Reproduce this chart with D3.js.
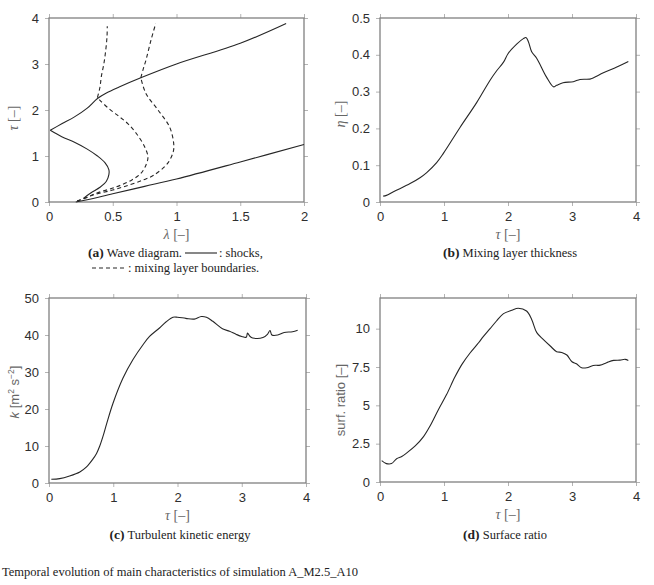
<!DOCTYPE html>
<meta charset="utf-8">
<style>
    body { margin: 0; background: #fff; }
    .frame { fill: none; stroke: #808080; stroke-width: 1.3px; }
    .tick line { stroke: #b4b4b4; stroke-width: 1px; }
    .tick text { font-family: "Liberation Sans", Arial, sans-serif; font-size: 13px; fill: #2e2e2e; }
    .curve { fill: none; stroke: #262626; stroke-width: 1.1px; }
    .dashed { stroke-dasharray: 4 3; }
    .axlabel { font-family: "Liberation Serif", serif; font-size: 14px; fill: #666; }
    .axlabel-sans { font-family: "Liberation Sans", Arial, sans-serif; font-size: 13px; fill: #666; }
    .caption { font-family: "Liberation Serif", serif; font-size: 12.5px; fill: #222; }
</style>
<body>
<svg id="chart" width="654" height="585"></svg>
<script src="https://d3js.org/d3.v7.min.js"></script>
<script>
// (a) wave diagram, points are [lambda, tau]
var incidentShock = [[0.21,0],[0.3,0.05],[0.5,0.18],[0.75,0.34],[1,0.5],[1.5,0.87],[2,1.25]];
var reflectedShock = [[0.27,0.08],[0.33,0.2],[0.4,0.32],[0.45,0.45],[0.47,0.6],[0.47,0.7],[0.44,0.85],
    [0.38,1.0],[0.3,1.15],[0.2,1.3],[0.1,1.42],[0.01,1.56]];
var transmittedShock = [[0.01,1.56],[0.1,1.7],[0.2,1.85],[0.3,2.04],[0.38,2.25],[0.45,2.37],[0.55,2.5],
    [0.72,2.7],[1,3.0],[1.5,3.45],[1.86,3.88]];
var mixLeftLow = [[0.22,0.02],[0.3,0.1],[0.37,0.19],[0.53,0.33],[0.65,0.48],[0.72,0.62],[0.76,0.8],
    [0.776,0.98],[0.75,1.2],[0.685,1.49],[0.62,1.7],[0.554,1.85],[0.47,2.03],[0.4,2.21],[0.38,2.27]];
var mixLeftHigh = [[0.38,2.27],[0.4,2.5],[0.41,2.72],[0.43,3.0],[0.445,3.3],[0.455,3.6],[0.457,3.82]];
var mixRightLow = [[0.22,0.02],[0.345,0.15],[0.5,0.26],[0.63,0.37],[0.74,0.48],[0.82,0.58],[0.93,0.84],
    [0.975,1.1],[0.978,1.27],[0.946,1.63],[0.855,2.0],[0.76,2.36],[0.72,2.7]];
var mixRightHigh = [[0.72,2.7],[0.74,2.9],[0.76,3.08],[0.8,3.52],[0.837,3.88]];

// (b) mixing layer thickness
var tauB = [0.05,0.1,0.21,0.47,0.625,0.73,0.885,0.99,1.25,1.51,1.72,1.82,1.93,2.0,2.135,2.24,2.28,
    2.32,2.37,2.45,2.6,2.71,2.76,2.86,3.02,3.125,3.28,3.33,3.49,3.7,3.88];
var etaB = [0.016,0.018,0.028,0.05,0.066,0.08,0.107,0.132,0.2025,0.27,0.331,0.356,0.38,0.403,0.429,0.444,0.447,
    0.435,0.408,0.39,0.34,0.313,0.317,0.324,0.327,0.333,0.334,0.337,0.351,0.367,0.382];

// (c) turbulent kinetic energy
var tauC = [0.036,0.166,0.32,0.48,0.58,0.68,0.74,0.79,0.84,0.9,0.995,1.15,1.305,1.46,1.565,1.72,1.82,1.93,2.0,2.13,
    2.26,2.37,2.45,2.55,2.7,2.81,2.91,3.0,3.07,3.09,3.13,3.17,3.33,3.4,3.44,3.47,3.56,3.66,3.79,3.87];
var kC = [1.0,1.18,1.9,3.0,4.3,6.4,8.0,10.0,12.6,16.2,21.5,28.3,33.3,37.3,39.6,41.9,43.5,44.8,44.8,44.5,
    44.3,45.0,44.8,43.7,41.7,41.0,40.2,39.6,39.4,40.5,39.6,39.2,39.3,40.2,41.2,40.0,40.0,40.7,40.9,41.3];

// (d) surface ratio
var tauD = [0.026,0.1,0.18,0.26,0.34,0.42,0.55,0.68,0.78,0.91,1.04,1.17,1.28,1.41,1.54,1.61,1.72,1.82,1.93,
    2.06,2.16,2.29,2.37,2.45,2.55,2.66,2.76,2.84,2.92,3.0,3.07,3.15,3.23,3.33,3.44,3.54,3.65,3.75,3.83,3.88];
var surfD = [1.39,1.2,1.2,1.52,1.66,1.9,2.35,2.96,3.64,4.7,5.7,6.84,7.67,8.43,9.08,9.46,10.0,10.5,10.98,
    11.2,11.33,11.15,10.6,9.74,9.3,8.87,8.5,8.45,8.28,7.84,7.71,7.45,7.45,7.6,7.62,7.78,7.93,7.95,8.0,7.93];

var lambdaTicks = [0, 0.5, 1, 1.5, 2];
var tauTicksA = [0, 1, 2, 3, 4];
var tauTicks = [0, 1, 2, 3, 4];
var etaTicks = [0, 0.1, 0.2, 0.3, 0.4, 0.5];
var kTicks = [0, 10, 20, 30, 40, 50];
var surfTicks = [0, 2.5, 5, 7.5, 10];

var svg = d3.select("#chart");
var fmt = function(d) { return String(d); };
var blank = function() { return ""; };

function panel(cfg) {
    var x = d3.scaleLinear().domain(cfg.xDomain).range([cfg.left, cfg.right]);
    var y = d3.scaleLinear().domain(cfg.yDomain).range([cfg.bottom, cfg.top]);
    var g = svg.append("g");

    g.append("g").attr("transform", "translate(0," + cfg.bottom + ")")
        .call(d3.axisBottom(x).tickValues(cfg.xTicks).tickFormat(fmt).tickSize(4).tickSizeOuter(0).tickPadding(6));
    g.append("g").attr("transform", "translate(0," + cfg.top + ")")
        .call(d3.axisTop(x).tickValues(cfg.xTicks).tickFormat(blank).tickSize(4).tickSizeOuter(0));
    g.append("g").attr("transform", "translate(" + cfg.left + ",0)")
        .call(d3.axisLeft(y).tickValues(cfg.yTicks).tickFormat(fmt).tickSize(4).tickSizeOuter(0).tickPadding(6));
    g.append("g").attr("transform", "translate(" + cfg.right + ",0)")
        .call(d3.axisRight(y).tickValues(cfg.yTicks).tickFormat(blank).tickSize(4).tickSizeOuter(0));
    g.selectAll(".domain").remove();
    g.selectAll(".tick text").attr("fill", null);

    g.append("rect").attr("class", "frame")
        .attr("x", cfg.left).attr("y", cfg.top)
        .attr("width", cfg.right - cfg.left).attr("height", cfg.bottom - cfg.top);

    // x axis label
    var xl = g.append("text").attr("class", "axlabel")
        .attr("x", (cfg.left + cfg.right) / 2).attr("y", cfg.bottom + 37)
        .attr("text-anchor", "middle");
    xl.append("tspan").attr("font-style", "italic").text(cfg.xName);
    xl.append("tspan").text(" [\u2013]");

    var line = d3.line().x(function(d) { return x(d[0]); }).y(function(d) { return y(d[1]); });
    return { x: x, y: y, g: g, line: line };
}

// ---- (a)
var pa = panel({ left: 49, right: 304, top: 18, bottom: 202, xDomain: [0, 2], yDomain: [0, 4],
    xTicks: lambdaTicks, yTicks: tauTicksA, xName: "\u03bb" });
var smooth = pa.line.curve(d3.curveCatmullRom.alpha(0.5));
[incidentShock, reflectedShock, transmittedShock].forEach(function(s) {
    pa.g.append("path").attr("class", "curve").attr("d", smooth(s));
});
[mixLeftLow, mixLeftHigh, mixRightLow, mixRightHigh].forEach(function(s) {
    pa.g.append("path").attr("class", "curve dashed").attr("d", smooth(s));
});
var ya = pa.g.append("text").attr("class", "axlabel").attr("text-anchor", "middle")
    .attr("transform", "translate(18,118) rotate(-90)");
ya.append("tspan").attr("font-style", "italic").text("\u03c4");
ya.append("tspan").text(" [\u2013]");

// ---- (b)
var pb = panel({ left: 380, right: 636, top: 18, bottom: 202, xDomain: [0, 4], yDomain: [0, 0.5],
    xTicks: tauTicks, yTicks: etaTicks, xName: "\u03c4" });
pb.g.append("path").attr("class", "curve")
    .attr("d", pb.line.curve(d3.curveCatmullRom.alpha(0.5))(d3.zip(tauB, etaB)));
var yb = pb.g.append("text").attr("class", "axlabel").attr("text-anchor", "middle")
    .attr("transform", "translate(345,114) rotate(-90)");
yb.append("tspan").attr("font-style", "italic").text("\u03b7");
yb.append("tspan").text(" [\u2013]");

// ---- (c)
var pc = panel({ left: 49, right: 306, top: 298, bottom: 483, xDomain: [0, 4], yDomain: [0, 50],
    xTicks: tauTicks, yTicks: kTicks, xName: "\u03c4" });
pc.g.append("path").attr("class", "curve")
    .attr("d", pc.line.curve(d3.curveCatmullRom.alpha(0.5))(d3.zip(tauC, kC)));
var yc = pc.g.append("text").attr("class", "axlabel-sans").attr("text-anchor", "middle")
    .attr("transform", "translate(19,392) rotate(-90)");
yc.append("tspan").attr("font-style", "italic").text("k");
yc.append("tspan").text(" [m");
yc.append("tspan").attr("font-size", "8.5px").attr("baseline-shift", "super").text("2");
yc.append("tspan").text(" s");
yc.append("tspan").attr("font-size", "8.5px").attr("baseline-shift", "super").text("\u22122");
yc.append("tspan").text("]");

// ---- (d)
var pd = panel({ left: 380, right: 636, top: 298, bottom: 482, xDomain: [0, 4], yDomain: [0, 12],
    xTicks: tauTicks, yTicks: surfTicks, xName: "\u03c4" });
pd.g.append("path").attr("class", "curve")
    .attr("d", pd.line.curve(d3.curveCatmullRom.alpha(0.5))(d3.zip(tauD, surfD)));
pd.g.append("text").attr("class", "axlabel-sans").attr("text-anchor", "middle")
    .attr("transform", "translate(345,400) rotate(-90)")
    .text("surf. ratio [\u2013]");

// ---- captions
function caption(cx, cy, letter, rest) {
    var t = svg.append("text").attr("class", "caption").attr("x", cx).attr("y", cy).attr("text-anchor", "middle");
    t.append("tspan").attr("font-weight", "bold").attr("font-size", "13.5px").text("(" + letter + ")");
    t.append("tspan").text(" " + rest);
}
caption(510, 257, "b", "Mixing layer thickness");
caption(180, 539, "c", "Turbulent kinetic energy");
caption(505, 539, "d", "Surface ratio");

// (a) caption with legend samples
var r1 = svg.append("text").attr("class", "caption").attr("x", 88).attr("y", 257);
r1.append("tspan").attr("font-weight", "bold").attr("font-size", "13.5px").text("(a)");
r1.append("tspan").text(" Wave diagram.");
var w1 = r1.node().getComputedTextLength();
svg.append("line").attr("class", "curve").attr("x1", 88 + w1 + 3).attr("x2", 88 + w1 + 35)
    .attr("y1", 253).attr("y2", 253);
svg.append("text").attr("class", "caption").attr("x", 88 + w1 + 37).attr("y", 257).text(": shocks,");

svg.append("line").attr("class", "curve dashed").attr("x1", 92).attr("x2", 125)
    .attr("y1", 268).attr("y2", 268);
svg.append("text").attr("class", "caption").attr("x", 128).attr("y", 272).text(": mixing layer boundaries.");

svg.append("text").attr("class", "caption").attr("x", 2).attr("y", 576)
    .text("Temporal evolution of main characteristics of simulation A_M2.5_A10");
</script>
</body>
</html>
